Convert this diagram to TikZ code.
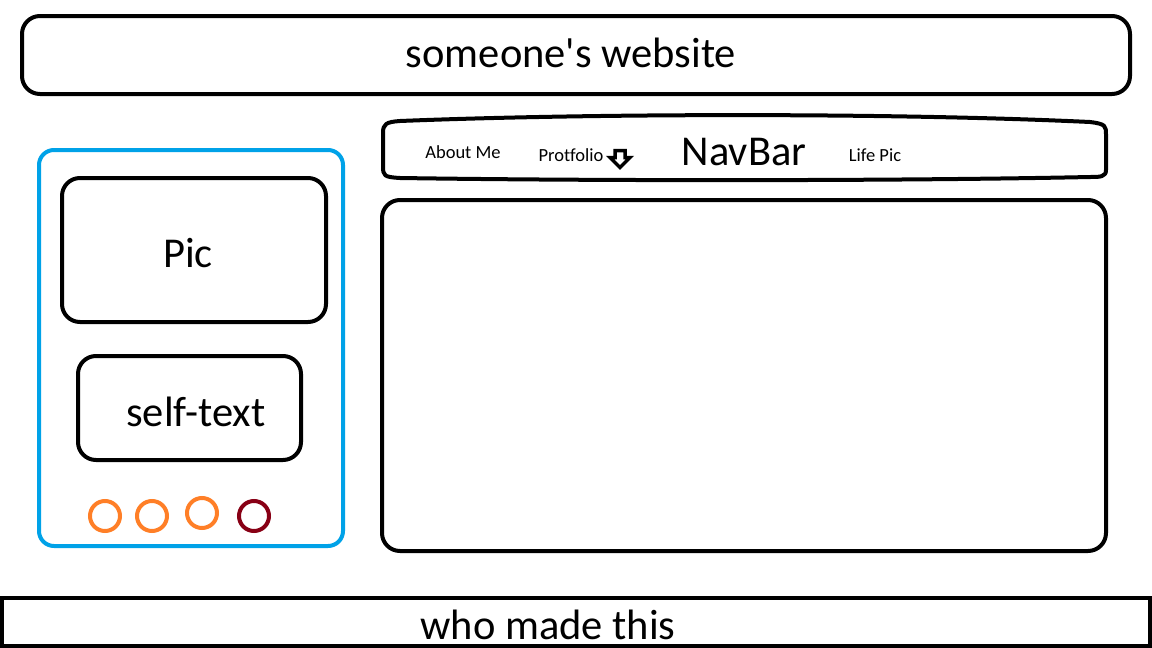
\documentclass[tikz,border=0pt]{standalone}
\usepackage{fontspec}
\setmainfont{Carlito}[Ligatures={NoCommon}]
\definecolor{pblue}{HTML}{00A2E8}
\definecolor{porange}{HTML}{FF7F27}
\definecolor{pred}{HTML}{880015}
\begin{document}
\begin{tikzpicture}[x=1pt,y=-1pt,
  box/.style={draw=black,line width=4pt,rounded corners=18pt},
  dot/.style={draw=porange,line width=4pt,circle,minimum size=30pt,inner sep=0pt},
  big/.style={font=\fontsize{42.5}{44}\selectfont},
  small/.style={font=\fontsize{18.5}{20}\selectfont}]
\useasboundingbox (0,0) rectangle (1152,648);
% top bar
\draw[box] (22,16) rectangle (1130,94);
\node[big] (title) at (571,53) {someone\textquotesingle s website};
% left panel
\draw[draw=pblue,line width=4pt,rounded corners=15pt] (39,150) rectangle (343,546);
\draw[box] (62,178) rectangle (326,322);
\node[big] (pic) at (188,253) {Pic};
\draw[box] (78,356) rectangle (301,460);
\node[big] (self) at (196,412) {self-text};
\node[dot] (c1) at (105,516) {};
\node[dot] (c2) at (152,516) {};
\node[dot] (c3) at (202,513) {};
\node[dot,draw=pred] (c4) at (254,516) {};
% navbar
\draw[line width=4pt,line join=round]
  (400,121) .. controls (600,113) and (900,113) .. (1090,122)
  .. controls (1106,124) and (1106,126) .. (1106,135)
  -- (1106,170)
  .. controls (1106,177) and (1100,177) .. (1090,177)
  .. controls (900,181) and (600,181) .. (400,178)
  .. controls (384,177) and (383,176) .. (383,166)
  -- (383,133)
  .. controls (383,124) and (386,122) .. (400,121) -- cycle;
\node[small] (about) at (463,152) {About Me};
\node[small] (port) at (571,155) {Protfolio};
\draw[line width=3.5pt,fill=white,line join=miter]
  (615,150.5) -- (625,150.5) -- (625,157.5) -- (630,157.5) -- (620,167.5) -- (610,157.5) -- (615,157.5) -- cycle;
\node[font=\fontsize{42.5}{44}\selectfont] (nav) at (744,152) {NavBar};
\node[small] (life) at (875,155) {Life Pic};
% content
\draw[box] (382,200) rectangle (1106,551);
% bottom bar
\draw[line width=4pt] (2,598) rectangle (1150,646);
\node[big] (who) at (548,625) {who made this};
\end{tikzpicture}
\end{document}
